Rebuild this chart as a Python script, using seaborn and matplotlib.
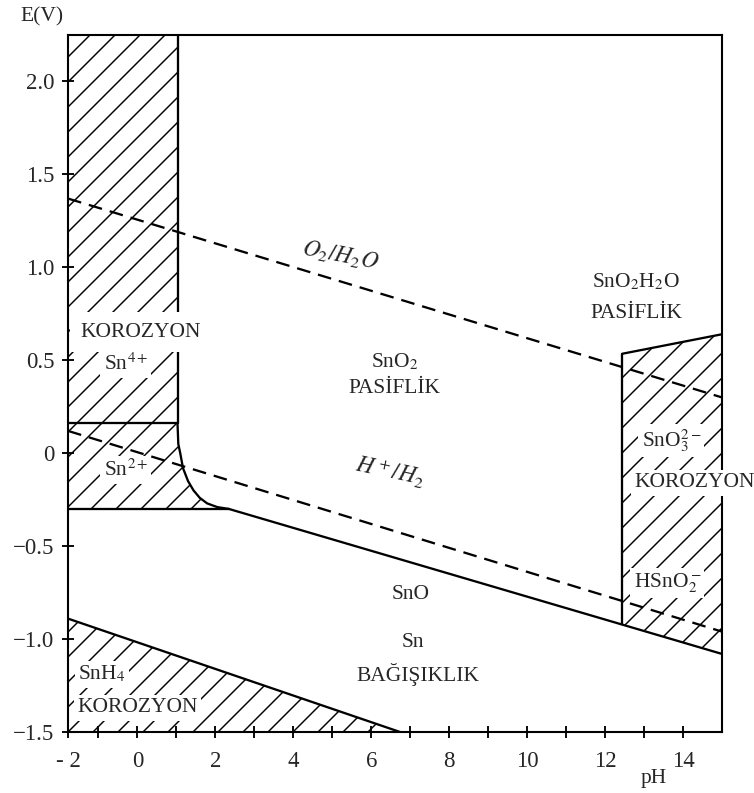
import seaborn as sns
import matplotlib.pyplot as plt

# Sn - H2O Pourbaix diagram (E vs pH)
xmin, xmax = -1.78, 15
ymin, ymax = -1.5, 2.25

x_ticks = [xmin, 0, 2, 4, 6, 8, 10, 12, 14]
x_tick_labels = ["- 2", "0", "2", "4", "6", "8", "10", "12", "14"]
x_minor = [-1, 1, 3, 5, 7, 9, 11, 13]
y_ticks = [-1.5, -1.0, -0.5, 0, 0.5, 1.0, 1.5, 2.0]
y_tick_labels = ["\u22121.5", "\u22121.0", "\u22120.5", "0", "0.5", "1.0", "1.5", "2.0"]

# water stability lines (dashed)
o2_ph = [-1.78, 15]
o2_e = [1.37, 0.30]
h2_ph = [-1.78, 15]
h2_e = [0.12, -0.96]

# Sn4+ / Sn2+ corrosion column
col_ph = [1.03, 1.03]
col_e = [2.25, 0.16]
sn42_ph = [-1.78, 1.03]
sn42_e = [0.16, 0.16]
sn2_curve_ph = [1.03, 1.05, 1.1, 1.17, 1.3, 1.44, 1.6, 1.79, 2.05, 2.35]
sn2_curve_e = [0.16, 0.05, 0.0, -0.08, -0.15, -0.2, -0.24, -0.27, -0.29, -0.30]
sn2_bottom_ph = [-1.78, 2.35]
sn2_bottom_e = [-0.30, -0.30]

# Sn / SnO boundary
sn_ph = [2.35, 15]
sn_e = [-0.30, -1.08]

# SnH4 boundary
snh4_ph = [-1.78, 6.74]
snh4_e = [-0.89, -1.5]

# SnO3 2- / HSnO2 - region
sno3_top_ph = [12.44, 15]
sno3_top_e = [0.535, 0.64]
sno3_left_ph = [12.44, 12.44]
sno3_left_e = [0.535, -0.92]

sns.set_style("ticks")
plt.rcParams["font.family"] = ["Liberation Serif", "DejaVu Serif"]
plt.rcParams["mathtext.fontset"] = "stix"
plt.rcParams["hatch.linewidth"] = 0.7
plt.rcParams["lines.dashed_pattern"] = [6, 3.5]

fig = plt.figure(figsize=(754 / 150, 793 / 150), dpi=150)
ax = fig.add_axes([68 / 754, 61 / 793, 654 / 754, 697 / 793])

# hatched corrosion regions
col_poly_x = [xmin] + col_ph + sn2_curve_ph[1:] + [xmin]
col_poly_y = [ymax] + col_e + sn2_curve_e[1:] + [sn2_bottom_e[0]]
ax.fill(col_poly_x, col_poly_y, facecolor="none", edgecolor="black", hatch="//", lw=0)

snh4_poly_x = snh4_ph + [xmin]
snh4_poly_y = snh4_e + [ymin]
ax.fill(snh4_poly_x, snh4_poly_y, facecolor="none", edgecolor="black", hatch="//", lw=0)

sno3_poly_x = sno3_top_ph + [xmax, sno3_left_ph[0]]
sno3_poly_y = sno3_top_e + [sn_e[1], sno3_left_e[1]]
ax.fill(sno3_poly_x, sno3_poly_y, facecolor="none", edgecolor="black", hatch="//", lw=0)

# boundary lines
solid = [
    (col_ph, col_e), (sn42_ph, sn42_e), (sn2_curve_ph, sn2_curve_e),
    (sn2_bottom_ph, sn2_bottom_e), (sn_ph, sn_e), (snh4_ph, snh4_e),
    (sno3_top_ph, sno3_top_e), (sno3_left_ph, sno3_left_e),
]
for px, py in solid:
    sns.lineplot(x=px, y=py, ax=ax, color="black", lw=1.1,
                 sort=False, estimator=None)

for px, py in [(o2_ph, o2_e), (h2_ph, h2_e)]:
    sns.lineplot(x=px, y=py, ax=ax, color="black", lw=1.1, linestyle="--",
                 sort=False, estimator=None)

ax.set_xlim(xmin, xmax)
ax.set_ylim(ymin, ymax)
ax.set_xticks(x_ticks)
ax.set_xticklabels(x_tick_labels)
ax.set_xticks(x_minor, minor=True)
ax.set_yticks(y_ticks)
ax.set_yticklabels(y_tick_labels)
ax.tick_params(which="both", direction="inout", length=6, width=0.9,
               labelsize=11, color="black")
ax.tick_params(axis="x", pad=6)
for s in ax.spines.values():
    s.set_linewidth(1.0)
    s.set_color("black")

fs = 10.3
box = dict(facecolor="white", edgecolor="none", pad=1.5)

ax.text(-0.04, 1.026, "E(V)", transform=ax.transAxes, ha="center",
        va="center", fontsize=fs)
ax.text(0.896, -0.066, "pH", transform=ax.transAxes, ha="center",
        va="center", fontsize=fs)

ax.text(5.2, 1.06, r"$O_2/H_2O$", ha="center", va="center", fontsize=fs + 1,
        rotation=-11)
ax.text(6.6, 0.49, r"SnO$_2$", ha="center", va="center", fontsize=fs)
ax.text(6.6, 0.35, "PASİFLİK", ha="center", va="center", fontsize=fs)
ax.text(6.47, -0.10, r"$H^+/H_2$", ha="center", va="center", fontsize=fs + 1,
        rotation=-12)
ax.text(7.0, -0.76, "SnO", ha="center", va="center", fontsize=fs)
ax.text(7.08, -1.02, "Sn", ha="center", va="center", fontsize=fs)
ax.text(7.2, -1.19, "BAĞIŞIKLIK", ha="center", va="center", fontsize=fs)

ax.text(12.8, 0.92, r"SnO$_2$H$_2$O", ha="center", va="center", fontsize=fs)
ax.text(12.8, 0.75, "PASİFLİK", ha="center", va="center", fontsize=fs)
ax.text(13.7, 0.07, r"SnO$_3^{2-}$", ha="center", va="center", fontsize=fs,
        bbox=box)
ax.text(14.3, -0.16, "KOROZYON", ha="center", va="center", fontsize=fs,
        bbox=box, zorder=5)
ax.text(13.6, -0.70, r"HSnO$_2^-$", ha="center", va="center", fontsize=fs,
        bbox=box)

ax.text(0.08, 0.65, "KOROZYON", ha="center", va="center", fontsize=fs,
        bbox=dict(facecolor="white", edgecolor="none", pad=5), zorder=5)
ax.text(-0.3, 0.48, r"Sn$^{4+}$", ha="center", va="center", fontsize=fs,
        bbox=box)
ax.text(-0.3, -0.09, r"Sn$^{2+}$", ha="center", va="center", fontsize=fs,
        bbox=box)
ax.text(-0.92, -1.19, r"SnH$_4$", ha="center", va="center", fontsize=fs,
        bbox=box)
ax.text(0.0, -1.37, "KOROZYON", ha="center", va="center", fontsize=fs,
        bbox=box)

fig.savefig("out.png", dpi=150)
